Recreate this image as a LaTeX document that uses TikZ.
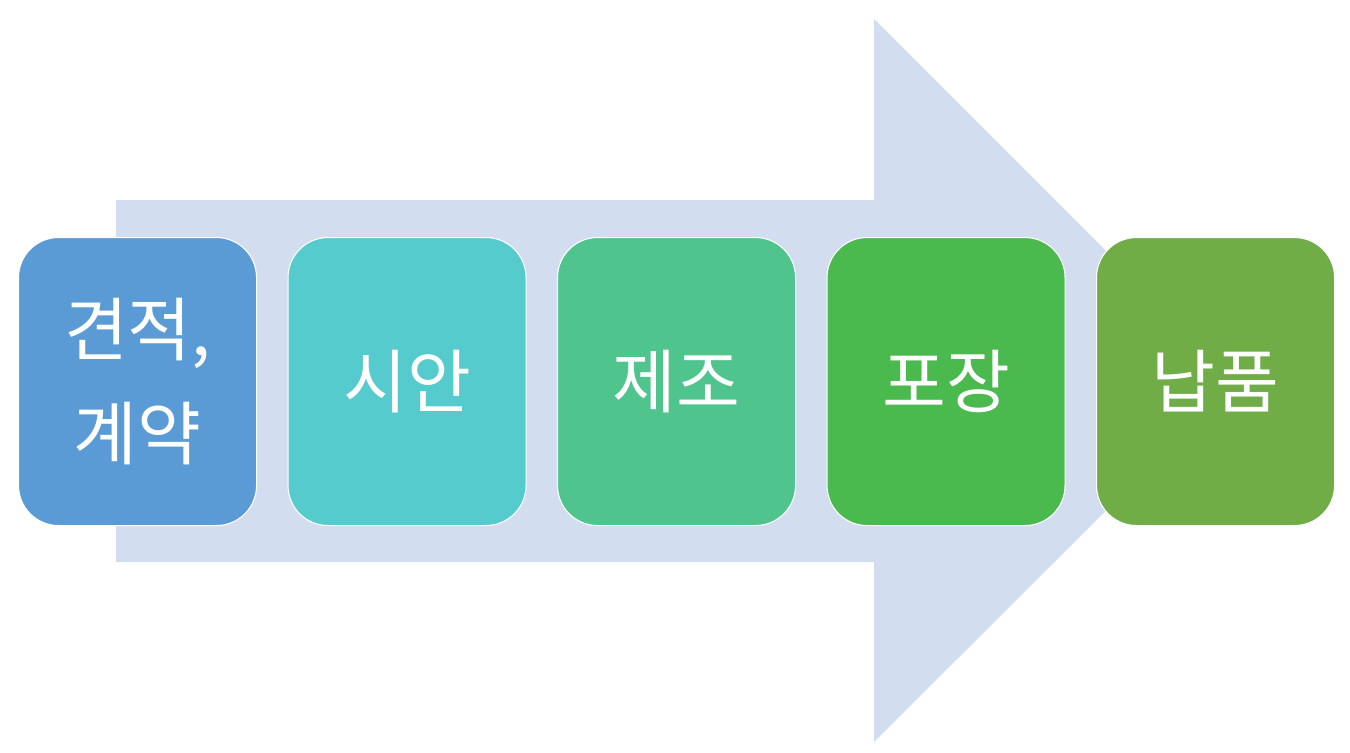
\documentclass[tikz,border=0pt]{standalone}
\usepackage{fontspec}
\newfontfamily\kr{Noto Sans CJK KR}
\definecolor{arrowc}{HTML}{D2DEEF}
\definecolor{c1}{HTML}{5B9BD5}
\definecolor{c2}{HTML}{56CBCD}
\definecolor{c3}{HTML}{50C48D}
\definecolor{c4}{HTML}{4AB94E}
\definecolor{c5}{HTML}{70AD47}
\begin{document}
\begin{tikzpicture}[x=0.75pt,y=-0.75pt,
  stepbox/.style={draw=white,line width=0.8pt,rounded corners=30pt,minimum width=178.5pt,minimum height=216pt,inner sep=0pt,text=white,font=\kr\fontsize{52}{78}\selectfont,align=center,anchor=north west}]
\useasboundingbox (0,0) rectangle (1350,753);
\fill[arrowc] (116,200) -- (874,200) -- (874,19) -- (1236,381) -- (874,742) -- (874,562) -- (116,562) -- cycle;
\node[stepbox,fill=c1] (b1) at (18,237) {견적,\\계약};
\node[stepbox,fill=c2] (b2) at (287.5,237) {시안};
\node[stepbox,fill=c3] (b3) at (557,237) {제조};
\node[stepbox,fill=c4] (b4) at (826.5,237) {포장};
\node[stepbox,fill=c5] (b5) at (1096,237) {납품};
\end{tikzpicture}
\end{document}
